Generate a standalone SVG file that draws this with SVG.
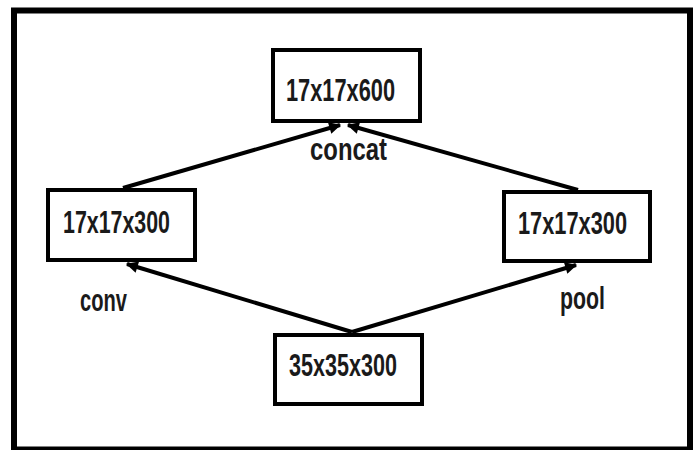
<svg xmlns="http://www.w3.org/2000/svg" width="697" height="450" viewBox="0 0 697 450">
  <style>
    .box { fill: #ffffff; stroke: #000000; stroke-width: 4; }
    .lbl { font-family: "Liberation Sans", Arial, sans-serif; font-weight: bold; font-size: 32px; fill: #1a1a1a; }
    .edge { stroke: #000000; stroke-width: 4; fill: none; marker-end: url(#head); }
  </style>
  <defs>
    <marker id="head" viewBox="0 0 10 10" refX="9" refY="5" markerWidth="3.4" markerHeight="3" orient="auto" markerUnits="strokeWidth">
      <path d="M0,0 L10,5 L0,10 Z" fill="#000000"/>
    </marker>
  </defs>

  <!-- outer frame -->
  <rect x="14" y="10.5" width="676" height="439" fill="#ffffff" stroke="#000000" stroke-width="6"/>

  <g id="connectors">
    <line class="edge" x1="352" y1="332" x2="127" y2="264"/>
    <line class="edge" x1="352" y1="332" x2="576" y2="265"/>
    <line class="edge" x1="123" y1="188" x2="340" y2="125"/>
    <line class="edge" x1="578" y1="190" x2="348" y2="125"/>
  </g>

  <g id="node-top">
    <rect class="box" x="273" y="50" width="147" height="71"/>
    <text class="lbl" x="286" y="101" textLength="109" lengthAdjust="spacingAndGlyphs">17x17x600</text>
  </g>

  <g id="node-left">
    <rect class="box" x="48" y="190" width="147" height="70"/>
    <text class="lbl" x="63" y="233" textLength="107" lengthAdjust="spacingAndGlyphs">17x17x300</text>
  </g>

  <g id="node-right">
    <rect class="box" x="504" y="192" width="146" height="69"/>
    <text class="lbl" x="518" y="234" textLength="109" lengthAdjust="spacingAndGlyphs">17x17x300</text>
  </g>

  <g id="node-bottom">
    <rect class="box" x="275" y="335" width="147" height="69"/>
    <text class="lbl" x="289" y="376" textLength="108" lengthAdjust="spacingAndGlyphs">35x35x300</text>
  </g>

  <g id="edge-labels">
    <text class="lbl" x="310" y="160" font-size="30" textLength="77" lengthAdjust="spacingAndGlyphs">concat</text>
    <text class="lbl" x="80" y="311" font-size="30" textLength="47" lengthAdjust="spacingAndGlyphs">conv</text>
    <text class="lbl" x="560" y="309" font-size="30" textLength="45" lengthAdjust="spacingAndGlyphs">pool</text>
  </g>
</svg>
